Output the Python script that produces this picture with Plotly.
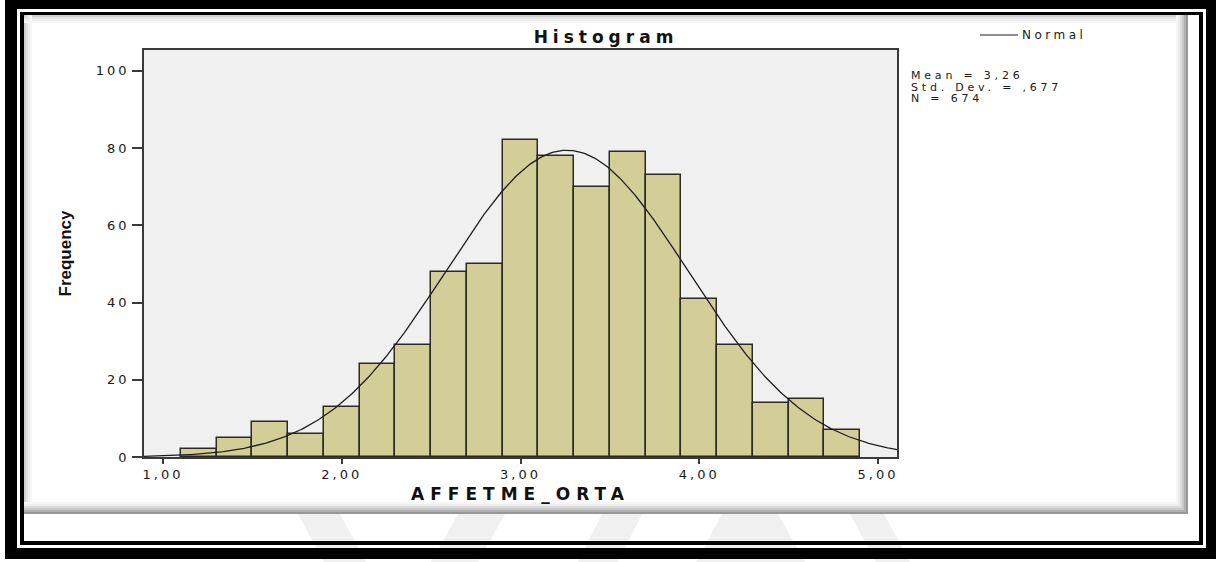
import numpy as np
import plotly.graph_objects as go

# ---- data ----
BIN_CENTERS = [1.2, 1.4, 1.6, 1.8, 2.0, 2.2, 2.4, 2.6, 2.8, 3.0,
               3.2, 3.4, 3.6, 3.8, 4.0, 4.2, 4.4, 4.6, 4.8]
COUNTS = [2, 5, 9, 6, 13, 24, 29, 48, 50, 82,
          78, 70, 79, 73, 41, 29, 14, 15, 7]
BIN_WIDTH = 0.2

MEAN = 3.26
STD_DEV = 0.677
N = 674
STATS_LINES = ["Mean = 3,26", "Std. Dev. = ,677", "N = 674"]

X_TICKS = [1, 2, 3, 4, 5]
X_TICK_TEXT = ["1,00", "2,00", "3,00", "4,00", "5,00"]
Y_TICKS = [0, 20, 40, 60, 80, 100]
Y_TICK_TEXT = ["0", "20", "40", "60", "80", "100"]

X_RANGE = [0.894, 5.106]
Y_RANGE = [0, 105.4]

# ---- page geometry (pixels) ----
W, H = 1218, 562
PL, PR, PT, PB = 144, 897, 50, 457

BAR_COLOR = "#D3CE97"
FRAME = "#3a3a3a"
FONT = "DejaVu Sans, Liberation Sans, Arial"


def px_x(x):
    return (x - PL) / (PR - PL)


def px_y(y):
    return (PB - y) / (PB - PT)


def spaced(text, ls=4):
    # the SPSS export was stretched sideways, mimic with letter spacing
    return f'<span style="letter-spacing:{ls}px">{text}</span>'


def rect(x0, y0, x1, y1, color):
    return dict(type="rect", xref="paper", yref="paper",
                x0=px_x(x0), x1=px_x(x1), y0=px_y(y1), y1=px_y(y0),
                fillcolor=color, line=dict(width=0), layer="above")


def quad(pts, color):
    path = "M " + " L ".join(f"{px_x(x)},{px_y(y)}" for x, y in pts) + " Z"
    return dict(type="path", xref="paper", yref="paper", path=path,
                fillcolor=color, line=dict(width=0), layer="below")


fig = go.Figure()

fig.add_trace(go.Bar(
    x=BIN_CENTERS, y=COUNTS, width=BIN_WIDTH,
    marker=dict(color=BAR_COLOR, line=dict(color="#2a2a22", width=1.5)),
    showlegend=False, hoverinfo="x+y",
))

# fitted normal curve scaled to counts per bin
xs = np.linspace(X_RANGE[0], X_RANGE[1], 400)
ys = N * BIN_WIDTH * np.exp(-0.5 * ((xs - MEAN) / STD_DEV) ** 2) / (STD_DEV * np.sqrt(2 * np.pi))
fig.add_trace(go.Scatter(x=xs, y=ys, mode="lines", name="Normal",
                         line=dict(color="#1e1e1e", width=1.3), showlegend=False))

shapes = []
# faint watermark stripes in the strip under the pasted chart
wm = "#f0f0f0"
shapes += [quad([(298, 514), (340, 514), (366, 562), (324, 562)], wm),
           quad([(458, 514), (505, 514), (478, 562), (431, 562)], wm),
           quad([(602, 514), (642, 514), (618, 562), (578, 562)], wm),
           quad([(722, 514), (778, 514), (805, 562), (696, 562)], wm),
           quad([(850, 514), (884, 514), (910, 562), (876, 562)], wm)]
# outer heavy black frame
shapes += [rect(5, 0, 1216, 9, "black"), rect(5, 548, 1216, 559, "black"),
           rect(5, 0, 17, 559, "black"), rect(1206, 0, 1216, 559, "black")]
# inner thin frame line
shapes += [rect(20, 12, 1203, 15, "black"), rect(20, 541, 1203, 545, "black"),
           rect(20, 12, 24, 545, "black"), rect(1199, 12, 1203, 545, "black")]
# soft shadow along the pasted chart panel
ramp = ["#f6f6f6", "#ececec", "#dcdcdc", "#c8c8c8", "#b0b0b0", "#979797"]
for i, c in enumerate(ramp):
    shapes.append(rect(1176 + 2 * i, 15, 1178 + 2 * i, 514, c))
    shapes.append(rect(24, 502 + 2 * i, 1188, 504 + 2 * i, c))
for i, c in enumerate(["#d0d0d0", "#e2e2e2", "#eeeeee", "#f6f6f6"]):
    shapes.append(rect(24, 15 + 2 * i, 1176, 17 + 2 * i, c))
    shapes.append(rect(24 + 2 * i, 15, 26 + 2 * i, 502, c))

# legend swatch
shapes.append(dict(type="line", xref="paper", yref="paper",
                   x0=px_x(980), x1=px_x(1018), y0=px_y(35), y1=px_y(35),
                   line=dict(color="#1e1e1e", width=1.2)))

annotations = [dict(text=spaced("Normal", 3.5), x=px_x(1020), y=px_y(35), xref="paper", yref="paper",
                    xanchor="left", yanchor="middle", showarrow=False,
                    font=dict(family=FONT, size=12, color="#1a1a1a"))]
for i, line in enumerate(STATS_LINES):
    annotations.append(dict(text=spaced(line, 3.8), x=px_x(909), y=px_y(76 + 11 * i),
                            xref="paper", yref="paper", xanchor="left", yanchor="middle",
                            showarrow=False, font=dict(family=FONT, size=11, color="#1a1a1a")))

fig.update_layout(
    width=W, height=H,
    margin=dict(l=PL, r=W - PR, t=PT, b=H - PB, autoexpand=False),
    paper_bgcolor="white",
    plot_bgcolor="#F0F0F0",
    bargap=0,
    showlegend=False,
    title=dict(text=spaced("<b>Histogram</b>", 5), x=px_x(606), xref="paper",
               xanchor="center", y=1 - 37 / H, yref="container", yanchor="middle",
               font=dict(family=FONT, size=17, color="#111")),
    shapes=shapes,
    annotations=annotations,
)

fig.update_xaxes(
    range=X_RANGE, tickvals=X_TICKS, ticktext=[spaced(t, 3) for t in X_TICK_TEXT],
    showgrid=False, zeroline=False, showline=True, mirror=True,
    linecolor=FRAME, linewidth=1.5,
    ticks="outside", ticklen=5, tickwidth=1.5, tickcolor=FRAME,
    tickfont=dict(family=FONT, size=13, color="#1a1a1a"),
    title=dict(text=spaced("<b>AFFETME_ORTA</b>", 6), standoff=7,
               font=dict(family=FONT, size=17, color="#111")),
)
fig.update_yaxes(
    range=Y_RANGE, tickvals=Y_TICKS, ticktext=[spaced(t, 3) for t in Y_TICK_TEXT],
    showgrid=False, zeroline=False, showline=True, mirror=True,
    linecolor=FRAME, linewidth=1.5,
    ticks="outside", ticklen=10, tickwidth=1.5, tickcolor=FRAME,
    tickfont=dict(family=FONT, size=13, color="#1a1a1a"),
    title=dict(text="<b>Frequency</b>", standoff=20,
               font=dict(family="Liberation Sans Narrow, Liberation Sans, Arial", size=17, color="#111")),
)

# drop the browser's default 8px body margin so the page lines up with the frame
fig.write_html("out.html", config={"displayModeBar": False},
               post_script="document.body.style.margin='0';")
